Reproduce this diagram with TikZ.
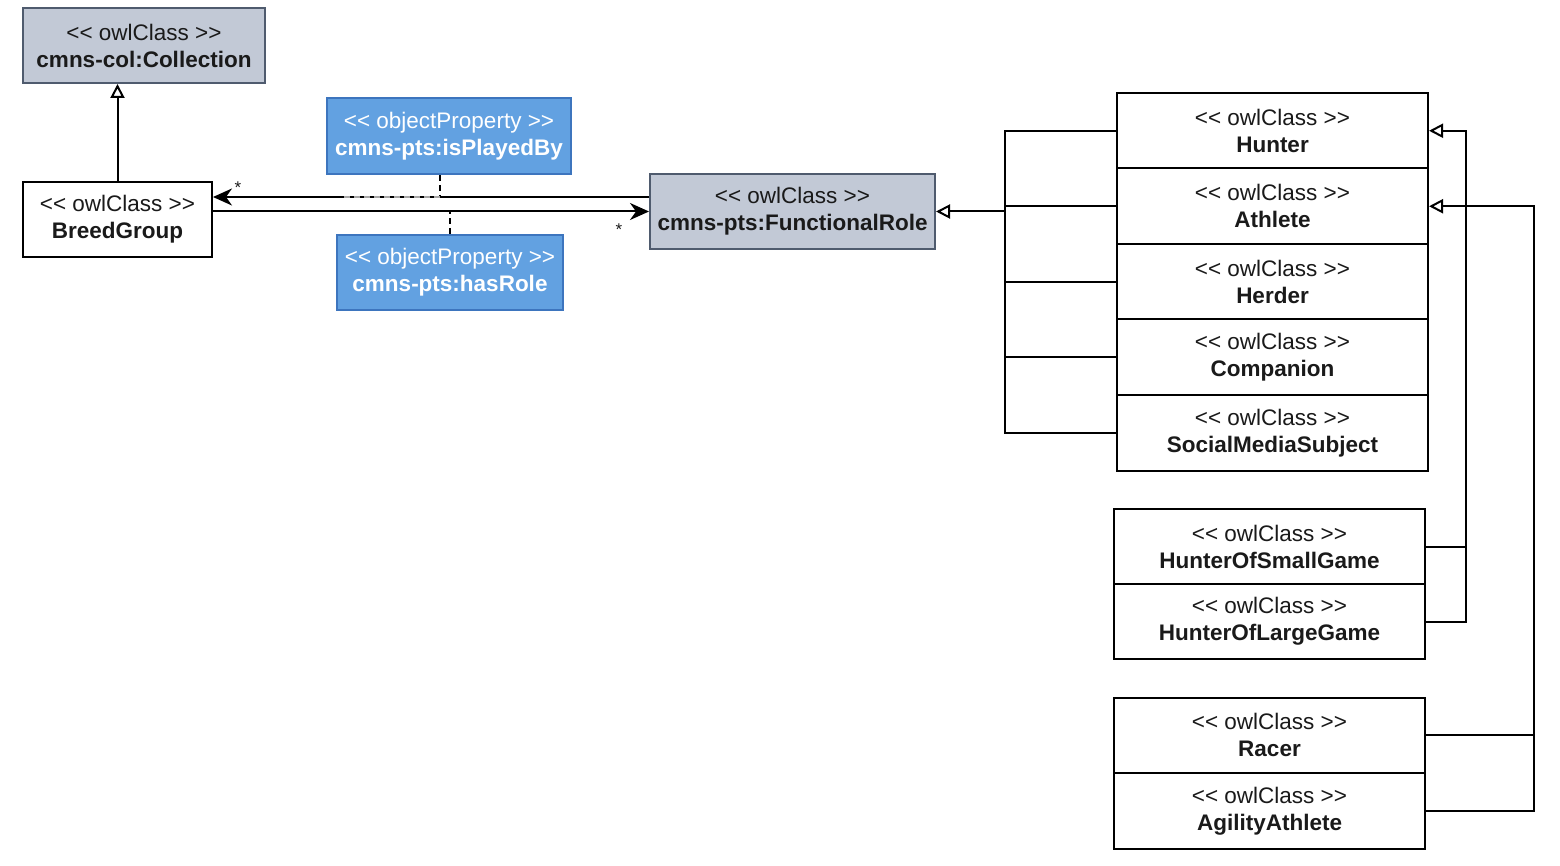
\documentclass[tikz,border=0pt]{standalone}
\usepackage{fontspec}
\setmainfont{Liberation Sans}
\usetikzlibrary{arrows.meta}

\definecolor{owlgrey}{HTML}{C2C9D6}
\definecolor{owlgreyline}{HTML}{4F5B6E}
\definecolor{propblue}{HTML}{62A1E1}
\definecolor{propblueline}{HTML}{3D75BE}
\definecolor{owltext}{HTML}{1A1A1A}

\newcommand{\owlstereo}[1]{<{}< #1 >{}>}

\tikzset{
  owlclass/.style={draw=black, fill=white, line width=2pt, text=owltext,
    align=center, inner sep=0pt, minimum height=75.5pt,
    font=\fontsize{22.5}{27}\selectfont},
  owlbase/.style={owlclass, draw=owlgreyline, fill=owlgrey},
  objprop/.style={owlclass, draw=propblueline, fill=propblue, text=white},
  line/.style={draw=black, line width=2pt},
  gen/.style={line, -{Triangle[open, length=14pt, width=14pt, line width=2pt]}},
  assoc/.style={line, -{Stealth[length=19pt, width=17pt, inset=6pt]}},
  propline/.style={draw=black, line width=2pt, dash pattern=on 6pt off 4pt},
  mult/.style={font=\fontsize{17}{17}\selectfont, text=owltext, inner sep=0pt}
}

\begin{document}
\begin{tikzpicture}[x=1pt, y=-1pt]

  \useasboundingbox (0,0) rectangle (1560,866);

  % Collection and BreedGroup
  \node[owlbase, minimum width=242pt, minimum height=75pt] (coll) at (144,45.5)
    {\owlstereo{owlClass}\\\textbf{cmns-col:Collection}};
  \node[owlclass, minimum width=189pt, minimum height=75pt] (breed) at (117.5,219.5)
    {\owlstereo{owlClass}\\\textbf{BreedGroup}};

  % Object properties
  \node[objprop, minimum width=244pt, minimum height=76pt] (played) at (449,136)
    {\owlstereo{objectProperty}\\\textbf{cmns-pts:isPlayedBy}};
  \node[objprop, minimum width=226pt, minimum height=75pt] (hasrole) at (450,272.5)
    {\owlstereo{objectProperty}\\\textbf{cmns-pts:hasRole}};

  % FunctionalRole
  \node[owlbase, minimum width=285pt, minimum height=75pt] (role) at (792.5,211.5)
    {\owlstereo{owlClass}\\\textbf{cmns-pts:FunctionalRole}};

  % Roles
  \node[owlclass, minimum width=311pt] (hunter) at (1272.5,130.75)
    {\owlstereo{owlClass}\\\textbf{Hunter}};
  \node[owlclass, minimum width=311pt] (athlete) at (1272.5,206.25)
    {\owlstereo{owlClass}\\\textbf{Athlete}};
  \node[owlclass, minimum width=311pt] (herder) at (1272.5,281.75)
    {\owlstereo{owlClass}\\\textbf{Herder}};
  \node[owlclass, minimum width=311pt] (companion) at (1272.5,357.25)
    {\owlstereo{owlClass}\\\textbf{Companion}};
  \node[owlclass, minimum width=311pt] (social) at (1272.5,432.75)
    {\owlstereo{owlClass}\\\textbf{SocialMediaSubject}};

  % Hunter subclasses
  \node[owlclass, minimum width=311pt, minimum height=75pt] (smallgame) at (1269.5,546.5)
    {\owlstereo{owlClass}\\\textbf{HunterOfSmallGame}};
  \node[owlclass, minimum width=311pt, minimum height=75pt] (largegame) at (1269.5,621.5)
    {\owlstereo{owlClass}\\\textbf{HunterOfLargeGame}};

  % Athlete subclasses
  \node[owlclass, minimum width=311pt] (racer) at (1269.5,735.25)
    {\owlstereo{owlClass}\\\textbf{Racer}};
  \node[owlclass, minimum width=311pt] (agility) at (1269.5,810.75)
    {\owlstereo{owlClass}\\\textbf{AgilityAthlete}};

  % Generalizations
  \draw[gen] (breed.north) -- (breed.north |- coll.south);

  \coordinate (rolebus) at (1005,211.5);
  \draw[line] (hunter.west) -| (rolebus);
  \draw[line] (athlete.west) -| (rolebus);
  \draw[line] (herder.west) -| (rolebus);
  \draw[line] (companion.west) -| (rolebus);
  \draw[line] (social.west) -| (rolebus);
  \draw[gen] (rolebus) -- (role.east);

  \coordinate (hunterbus) at (1466,130.75);
  \draw[gen] (smallgame.east) -| (hunterbus) -- (hunter.east);
  \draw[line] (largegame.east) -| (hunterbus);

  \coordinate (athletebus) at (1534,206.25);
  \draw[gen] (racer.east) -| (athletebus) -- (athlete.east);
  \draw[line] (agility.east) -| (athletebus);

  % Associations
  \draw[assoc] ([yshift=14.5pt]role.west) -- ([yshift=14.5pt]role.west -| breed.east);
  \draw[assoc] (breed.east |- role.west) -- (role.west);
  \node[mult] (starplayed) at (238,188) {*};
  \node[mult] (starrole) at (619,230) {*};

  \coordinate (playedfoot) at (440,197);
  \draw[propline] (playedfoot |- played.south) -- (playedfoot);
  \draw[propline, draw=gray!70, line width=1.5pt] (playedfoot) -- ++(-97,0);
  \draw[propline] (hasrole.north) -- (hasrole.north |- role.west);

\end{tikzpicture}
\end{document}
